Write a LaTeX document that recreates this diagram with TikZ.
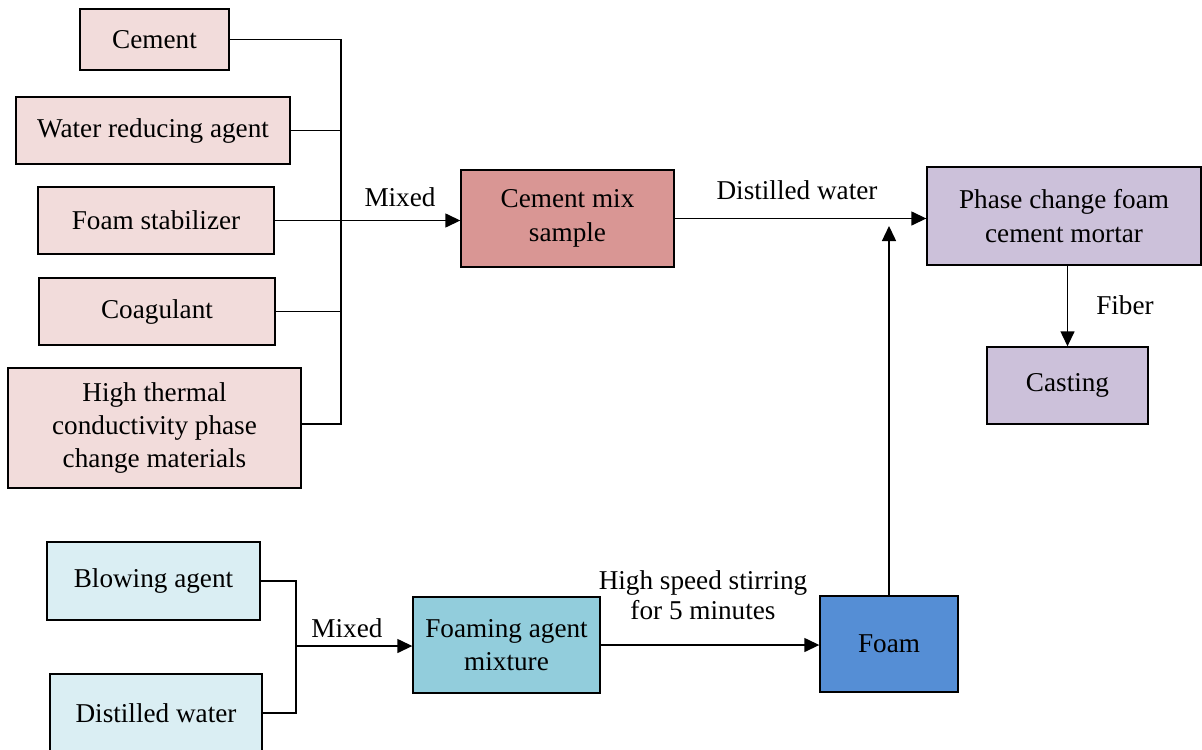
\documentclass[tikz,border=0pt]{standalone}
\usepackage{fontspec}
\setmainfont{Liberation Serif}
\usetikzlibrary{arrows.meta}

\definecolor{rawpink}{HTML}{F2DCDB}
\definecolor{mixred}{HTML}{D99694}
\definecolor{mortarlilac}{HTML}{CCC1DA}
\definecolor{foamice}{HTML}{DAEEF3}
\definecolor{foamteal}{HTML}{92CDDC}
\definecolor{foamblue}{HTML}{558ED5}

\tikzset{
  box/.style={draw, line width=0.7pt, align=center, inner sep=0pt,
    font=\fontsize{13.6}{16.7}\selectfont},
  lbl/.style={align=center, inner sep=0pt, font=\fontsize{13.6}{15}\selectfont},
  link/.style={line width=0.7pt},
  flow/.style={line width=0.7pt, -{Triangle[length=7.5pt,width=7pt]}}
}

\begin{document}
\begin{tikzpicture}[x=0.5pt, y=-0.5pt]
    \useasboundingbox (0,0) rectangle (1202,749);

    % Raw materials of the cement paste
    \node[box, fill=rawpink, minimum width=74.5pt, minimum height=30.5pt] (cement) at (154.5,39.5) {Cement};
    \node[box, fill=rawpink, minimum width=137pt, minimum height=33.5pt] (reducer) at (153,130.5) {Water reducing agent};
    \node[box, fill=rawpink, minimum width=118pt, minimum height=33.5pt] (stabilizer) at (156,220.5) {Foam stabilizer};
    \node[box, fill=rawpink, minimum width=118pt, minimum height=33.5pt] (coagulant) at (157,311.5) {Coagulant};
    \node[box, fill=rawpink, minimum width=146.5pt, minimum height=60pt] (pcm) at (154.5,428) {High thermal\\conductivity phase\\change materials};

    % Main line
    \node[box, fill=mixred, minimum width=106.5pt, minimum height=48.5pt] (mix) at (567.5,218.5) {Cement mix\\sample};
    \node[box, fill=mortarlilac, minimum width=137pt, minimum height=49pt] (mortar) at (1064,216) {Phase change foam\\cement mortar};
    \node[box, fill=mortarlilac, minimum width=80.5pt, minimum height=38.5pt] (casting) at (1067.5,385.5) {Casting};

    % Foam preparation
    \node[box, fill=foamice, minimum width=106.5pt, minimum height=39pt] (blowing) at (153.5,581) {Blowing agent};
    \node[box, fill=foamice, minimum width=106pt, minimum height=39pt] (water) at (156,713) {Distilled water};
    \node[box, fill=foamteal, minimum width=93.5pt, minimum height=48pt] (foaming) at (506.5,645) {Foaming agent\\mixture};
    \node[box, fill=foamblue, minimum width=69pt, minimum height=48pt] (foam) at (889,644) {Foam};

    % Collecting bus for the paste
    \coordinate (bustop) at (341,39.5);
    \coordinate (busbot) at (341,424);
    \draw[link] (cement.east) -- (bustop) -- (busbot) -- (busbot -| pcm.east);
    \draw[link] (reducer.east) -- (reducer.east -| bustop);
    \draw[link] (coagulant.east) -- (coagulant.east -| bustop);
    \draw[flow] (stabilizer.east) -- (stabilizer.east -| mix.west);
    \node[lbl] (mixedtop) at (400,197) {Mixed};

    \draw[flow] (mix.east) -- (mix.east -| mortar.west);
    \node[lbl] (dwlabel) at (797,190) {Distilled water};

    \draw[flow] (mortar.south -| casting.north) -- (casting.north);
    \node[lbl] (fiber) at (1125,305) {Fiber};

    % Collecting bus for the foam
    \coordinate (lowbus) at (296,646);
    \draw[link] (blowing.east) -- (blowing.east -| lowbus) -- (water.east -| lowbus) -- (water.east);
    \draw[flow] (lowbus) -- (lowbus -| foaming.west);
    \node[lbl] (mixedlow) at (347,628) {Mixed};

    \draw[flow] (foaming.east) -- (foaming.east -| foam.west);
    \node[lbl] (stirring) at (703,595) {High speed stirring\\for 5 minutes};

    \coordinate (merge) at (889,226);
    \draw[flow] (foam.north) -- (merge);
\end{tikzpicture}
\end{document}
